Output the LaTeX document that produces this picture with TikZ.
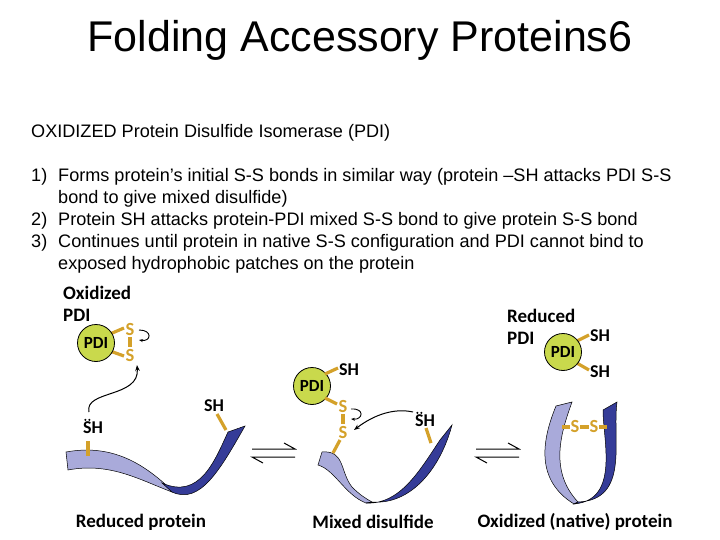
\documentclass[tikz,border=0pt]{standalone}
\usepackage{fontspec}
\setmainfont{Liberation Sans}
\newfontfamily\lab{Carlito}
\usetikzlibrary{arrows.meta,calc}
\definecolor{lt}{HTML}{A9AADA}
\definecolor{dk}{HTML}{353C98}
\definecolor{pdi}{HTML}{C9D94C}
\definecolor{gold}{HTML}{D4A12A}
\begin{document}
\begin{tikzpicture}[x=1pt,y=-1pt,
  lbl/.style={font=\lab\bfseries\fontsize{19}{19}\selectfont,inner sep=0pt},
  sl/.style={font=\lab\bfseries\fontsize{18.5}{18.5}\selectfont,inner sep=0pt,text=gold},
  bl/.style={font=\lab\bfseries\fontsize{18}{18}\selectfont,inner sep=0pt},
  pdic/.style={circle,draw=black,line width=0.8pt,fill=pdi,minimum size=37pt,inner sep=0pt,font=\lab\bfseries\fontsize{17}{17}\selectfont},
  bond/.style={gold,line width=3.2pt},
  rib/.style={draw=black,line width=0.5pt},
  arr/.style={-{Stealth[length=6pt]},line width=1pt},
  dot/.style={circle,fill=black,inner sep=0pt,minimum size=2.4pt},
  txt/.style={font=\fontsize{18.1}{18.1}\selectfont,inner sep=0pt,anchor=west}]
\useasboundingbox (0,0) rectangle (720,540);
\node (title) at (360,40) {\fontsize{43}{43}\selectfont Folding Accessory Proteins6};
\node[txt] (t0) at (31,133) {OXIDIZED Protein Disulfide Isomerase (PDI)};
\node[txt] (n1) at (31,177) {1)};
\node[txt] (l1) at (58,177) {Forms protein’s initial S-S bonds in similar way (protein –SH attacks PDI S-S};
\node[txt] (l1b) at (58,199) {bond to give mixed disulfide)};
\node[txt] (n2) at (31,221) {2)};
\node[txt] (l2) at (58,221) {Protein SH attacks protein-PDI mixed S-S bond to give protein S-S bond};
\node[txt] (n3) at (31,243) {3)};
\node[txt] (l3) at (58,243) {Continues until protein in native S-S configuration and PDI cannot bind to};
\node[txt] (l3b) at (58,265) {exposed hydrophobic patches on the protein};

% ---- Reduced protein
\node[lbl,anchor=west] (ox1) at (63,293) {Oxidized};
\node[lbl,anchor=west] (ox2) at (63,315) {PDI};
\node[sl] (s1) at (130,329) {S};
\node[sl] (s2) at (130,355) {S};
\draw[bond] (110,334) -- (124,328);
\draw[bond] (110,351) -- (124,356);
\draw[bond] (130,337) -- (130,347);
\node[pdic] (p1) at (96,343) {PDI};
\draw[-{Stealth[length=4pt]},line width=0.9pt] (139,330) .. controls (153,330) and (151,342) .. (139,340);
% ribbon 1
\fill[lt,rib] (66,452) .. controls (110,444) and (140,462) .. (165,484) -- (172,492) .. controls (140,480) and (110,462) .. (68,470) -- cycle;
\fill[dk,rib] (162,483) .. controls (200,500) and (215,460) .. (228,432) -- (245,426) .. controls (220,470) and (200,505) .. (172,492) -- cycle;
\draw[bond] (88,441) -- (88,456);
\draw[bond] (217,414) -- (226,430);
\node[bl] (sh1) at (93,428) {SH};
\node[dot] (d1) at ($(sh1.north west)+(2.5,-2)$) {};
\node[dot] (d2) at ($(sh1.north west)+(6.5,-2)$) {};
\node[bl] (sh2) at (214,406) {SH};
\draw[arr] (89,412) .. controls (84,390) and (140,398) .. (137,365);
\node[lbl] (b1) at (141,522) {Reduced protein};

\draw[line width=1pt] (252,449) -- (295,449) -- (284,443);
\draw[line width=1pt] (295,457) -- (252,457) -- (263,463);

% ---- Mixed disulfide
\node[pdic] (p2) at (312,386) {PDI};
\draw[bond] (325,374) -- (338,368);
\node[bl] (sh3) at (349,370) {SH};
\draw[bond] (325,398) -- (337,404);
\node[sl] (s3) at (343,406) {S};
\node[sl] (s4) at (343,432) {S};
\draw[bond] (343,414) -- (343,424);
\fill[lt,rib] (322,452) .. controls (345,450) and (340,472) .. (352,487) .. controls (360,495) and (365,498) .. (372,502) -- (366,503) .. controls (345,495) and (335,470) .. (318,465) -- cycle;
\fill[dk,rib] (366,503) .. controls (400,505) and (420,470) .. (440,440) -- (452,425) .. controls (440,470) and (410,505) .. (372,502) -- cycle;
\draw[bond] (340,440) -- (333,453);
\draw[bond] (426,428) -- (431,443);
\node[bl] (sh4) at (425,421) {SH};
\node[dot] (d3) at ($(sh4.north west)+(2.5,-2)$) {};
\node[dot] (d4) at ($(sh4.north west)+(6.5,-2)$) {};
\draw[-{Stealth[length=4pt]},line width=0.9pt] (351,409) .. controls (365,408) and (363,420) .. (351,419);
\draw[arr] (413,412) .. controls (395,408) and (375,414) .. (354,430);
\node[lbl] (b2) at (373,522) {Mixed disulfide};

\draw[line width=1pt] (476,449) -- (519,449) -- (508,443);
\draw[line width=1pt] (519,457) -- (476,457) -- (487,463);

% ---- Oxidized native
\node[lbl,anchor=west] (rd1) at (507,316) {Reduced};
\node[lbl,anchor=west] (rd2) at (507,338) {PDI};
\draw[bond] (575,342) -- (589,335);
\draw[bond] (575,362) -- (589,370);
\node[pdic] (p3) at (563,352) {PDI};
\node[bl] (sh5) at (600,336) {SH};
\node[bl] (sh6) at (600,372) {SH};
\fill[lt,rib] (556,406) -- (572,402) .. controls (562,430) and (548,470) .. (578,502) -- (574,504) .. controls (535,480) and (542,440) .. (556,406) -- cycle;
\fill[dk,rib] (574,504) .. controls (620,500) and (603,440) .. (603,410) -- (617,402) .. controls (612,440) and (630,500) .. (578,502) -- cycle;
\draw[bond] (562,427) -- (607,427);
\node[sl,fill=white,inner sep=1pt] (s5) at (575,426) {S};
\node[sl,fill=white,inner sep=1pt] (s6) at (594,426) {S};
\node[lbl] (b3) at (575,522) {Oxidized (native) protein};
\end{tikzpicture}
\end{document}
